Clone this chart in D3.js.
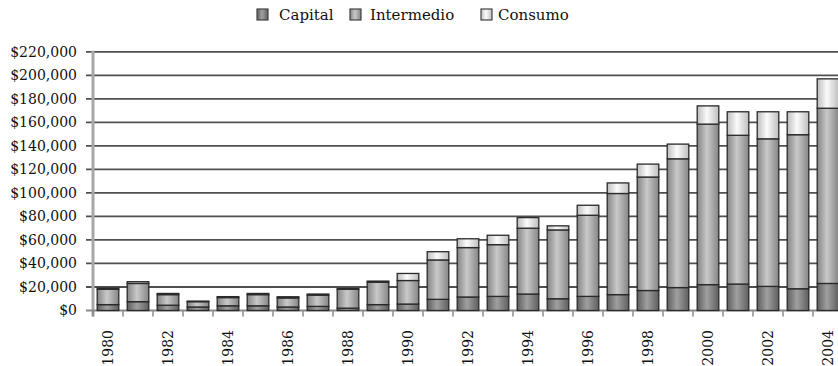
<!DOCTYPE html>
<html>
<head>
<meta charset="utf-8">
<script src="https://cdn.jsdelivr.net/npm/d3@7"></script>
<style>
  body { margin: 0; background: #fff; }
  text { font-family: "DejaVu Serif", serif; fill: #111; }
</style>
</head>
<body>
<div id="chart"></div>
<script>
// datos del grafico
var years = [1980, 1981, 1982, 1983, 1984, 1985, 1986, 1987, 1988, 1989,
             1990, 1991, 1992, 1993, 1994, 1995, 1996, 1997, 1998, 1999,
             2000, 2001, 2002, 2003, 2004];
var capital = [5000, 7500, 4500, 3000, 4000, 4000, 3000, 3500, 2000, 5000,
               5500, 9500, 11500, 12000, 14000, 10000, 12000, 13500, 17000, 19500,
               22000, 22500, 20500, 18500, 23000];
var intermedio = [13000, 15500, 9000, 4500, 7000, 9500, 7700, 9500, 16000, 19000,
                  20000, 33500, 42000, 44000, 56000, 58500, 69000, 86000, 96500, 109500,
                  136500, 126500, 125500, 131000, 149000];
var consumo = [1000, 1500, 1000, 500, 800, 1000, 1000, 1000, 700, 1000,
               6000, 7000, 7500, 8000, 9000, 3500, 8500, 9000, 11000, 12500,
               15500, 20000, 23000, 19500, 25000];
var seriesNames = ["Capital", "Intermedio", "Consumo"];
var yTicks = [0, 20000, 40000, 60000, 80000, 100000, 120000, 140000, 160000, 180000, 200000, 220000];

var width = 838,
    height = 366;

var svg = d3.select('#chart')
    .append('svg')
    .attr('width', width)
    .attr('height', height);

// gradientes tipo cilindro para cada serie
var shades = [
    ['#5e5e5e', '#a0a0a0'],
    ['#858585', '#c9c9c9'],
    ['#bdbdbd', '#fbfbfb']
];
var defs = svg.append('defs');
shades.forEach(function (s, i) {
    var g = defs.append('linearGradient')
        .attr('id', 'grad' + i)
        .attr('x1', '0%').attr('x2', '100%')
        .attr('y1', '0%').attr('y2', '0%');
    g.append('stop').attr('offset', '0%').attr('stop-color', s[0]);
    g.append('stop').attr('offset', '45%').attr('stop-color', s[1]);
    g.append('stop').attr('offset', '100%').attr('stop-color', s[0]);
});

var rows = years.map(function (y, i) {
    return { year: y, Capital: capital[i], Intermedio: intermedio[i], Consumo: consumo[i] };
});
var stacked = d3.stack().keys(seriesNames)(rows);

var x = d3.scaleBand()
    .domain(years)
    .range([93, 843])
    .paddingInner(0.28)
    .paddingOuter(0.14);

var y = d3.scaleLinear()
    .domain([0, 220000])
    .range([310.5, 51.8]);

var step = x.step();
var left = x.range()[0];

// lineas de cuadricula
svg.append('g')
    .selectAll('line')
    .data(yTicks.slice(1))
    .enter().append('line')
    .attr('x1', 86)
    .attr('x2', width)
    .attr('y1', function (d) { return y(d); })
    .attr('y2', function (d) { return y(d); })
    .attr('stroke', '#505050')
    .attr('stroke-width', 1.8);

// eje y
svg.append('line')
    .attr('x1', left).attr('x2', left)
    .attr('y1', y(220000) - 1).attr('y2', y(0) + 6)
    .attr('stroke', '#a8a8a8')
    .attr('stroke-width', 3);

svg.append('g')
    .selectAll('text')
    .data(yTicks)
    .enter().append('text')
    .attr('x', 77)
    .attr('y', function (d) { return y(d); })
    .attr('dy', '.35em')
    .attr('text-anchor', 'end')
    .style('font-size', '14px')
    .text(function (d) { return '$' + d3.format(',')(d); });

// eje x
svg.append('line')
    .attr('x1', 86).attr('x2', width)
    .attr('y1', y(0)).attr('y2', y(0))
    .attr('stroke', '#8a8a8a')
    .attr('stroke-width', 2);

svg.append('g')
    .selectAll('line')
    .data(d3.range(years.length + 1))
    .enter().append('line')
    .attr('x1', function (d) { return left + d * step; })
    .attr('x2', function (d) { return left + d * step; })
    .attr('y1', y(0))
    .attr('y2', y(0) + 6)
    .attr('stroke', '#8a8a8a')
    .attr('stroke-width', 1.5);

svg.append('g')
    .selectAll('text')
    .data(years.filter(function (d, i) { return i % 2 === 0; }))
    .enter().append('text')
    .attr('transform', function (d) {
        return 'translate(' + (x(d) + x.bandwidth() / 2) + ',330) rotate(-90)';
    })
    .attr('dy', '.35em')
    .attr('text-anchor', 'end')
    .style('font-size', '14px')
    .text(function (d) { return d; });

// barras apiladas
var layer = svg.append('g')
    .selectAll('g')
    .data(stacked)
    .enter().append('g')
    .attr('fill', function (d, i) { return 'url(#grad' + i + ')'; });

layer.selectAll('rect')
    .data(function (d) { return d; })
    .enter().append('rect')
    .attr('x', function (d) { return x(d.data.year); })
    .attr('y', function (d) { return y(d[1]); })
    .attr('width', x.bandwidth())
    .attr('height', function (d) { return y(d[0]) - y(d[1]); })
    .attr('stroke', '#2a2a2a')
    .attr('stroke-width', 1.3);

// leyenda
var legendX = [257, 350, 481];
var legend = svg.append('g')
    .selectAll('g')
    .data(seriesNames)
    .enter().append('g')
    .attr('transform', function (d, i) { return 'translate(' + legendX[i] + ',9)'; });

legend.append('rect')
    .attr('width', 11)
    .attr('height', 11)
    .attr('fill', function (d, i) { return 'url(#grad' + i + ')'; })
    .attr('stroke', '#444')
    .attr('stroke-width', 1.2);

legend.append('text')
    .attr('x', function (d, i) { return i === 0 ? 22 : (i === 1 ? 20 : 17); })
    .attr('y', 6)
    .attr('dy', '.35em')
    .style('font-size', '15px')
    .text(function (d) { return d; });
</script>
</body>
</html>
